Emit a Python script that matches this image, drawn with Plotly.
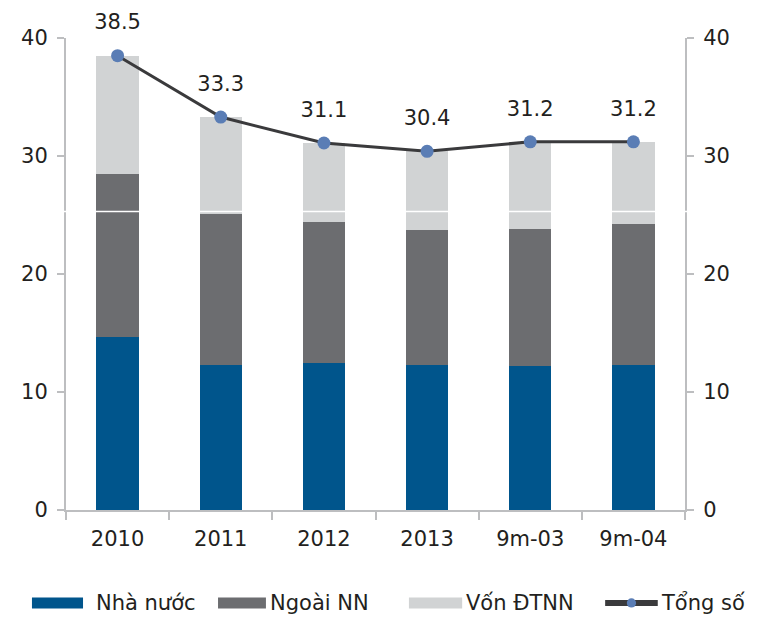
import plotly.graph_objects as go

categories = ["2010", "2011", "2012", "2013", "9m-03", "9m-04"]
nha_nuoc = [14.7, 12.3, 12.5, 12.3, 12.2, 12.3]
ngoai_nn = [13.8, 12.8, 11.9, 11.4, 11.6, 11.9]
von_dtnn = [10.0, 8.2, 6.7, 6.7, 7.4, 7.0]
tong_so = [38.5, 33.3, 31.1, 30.4, 31.2, 31.2]
series_names = ["Nhà nước", "Ngoài NN", "Vốn ĐTNN", "Tổng số"]

BLUE = "#00558C"
GRAY = "#6C6D70"
LIGHT = "#D1D3D4"
LINE = "#3A3A3C"
MARKER = "#5A7DB5"
AXIS = "#BDBEC0"
TEXT = "#231F20"
FONT = "DejaVu Sans"

fig = go.Figure()
for name, vals, col in zip(series_names[:3], [nha_nuoc, ngoai_nn, von_dtnn], [BLUE, GRAY, LIGHT]):
    fig.add_trace(go.Bar(x=categories, y=vals, name=name, marker=dict(color=col, line=dict(width=0)),
                         width=0.41, showlegend=False))

# total line drawn on the right axis (same 0-40 scale)
fig.add_trace(go.Scatter(x=categories, y=tong_so, name=series_names[3], mode="lines+markers",
                         yaxis="y2", line=dict(color=LINE, width=3), marker=dict(color=MARKER, size=13),
                         cliponaxis=False, showlegend=False))

# value labels: a big transparent marker pushes the text further above the point
fig.add_trace(go.Scatter(x=categories, y=tong_so, mode="markers+text", yaxis="y2",
                         marker=dict(size=32, color="rgba(0,0,0,0)"),
                         text=[f"{v:.1f}" for v in tong_so], textposition="top center",
                         textfont=dict(size=21, color=TEXT, family=FONT),
                         cliponaxis=False, showlegend=False, hoverinfo="skip"))

# white seam line crossing the chart
fig.add_shape(type="line", xref="paper", yref="y", x0=-0.03, x1=1.03, y0=25.3, y1=25.3,
              line=dict(color="white", width=1.5), layer="above")

# custom legend along the bottom: (swatch start, swatch end, text start)
legend_items = [
    (-0.055, 0.0275, 0.045, BLUE, "bar"),
    (0.2456, 0.323, 0.327, GRAY, "bar"),
    (0.554, 0.640, 0.643, LIGHT, "bar"),
    (0.871, 0.956, 0.958, LINE, "line"),
]
yl = -0.197
for (x0, x1, xt, col, kind), name in zip(legend_items, series_names):
    if kind == "bar":
        fig.add_shape(type="rect", xref="paper", yref="paper", x0=x0, x1=x1, y0=yl - 0.0117, y1=yl + 0.0117,
                      fillcolor=col, line=dict(width=0))
    else:
        fig.add_shape(type="line", xref="paper", yref="paper", x0=x0, x1=x1, y0=yl, y1=yl,
                      line=dict(color=col, width=6))
        xm = (x0 + x1) / 2
        fig.add_shape(type="circle", xref="paper", yref="paper", x0=xm - 0.0075, x1=xm + 0.0075,
                      y0=yl - 0.0098, y1=yl + 0.0098, fillcolor=MARKER, line=dict(width=0))
    fig.add_annotation(xref="paper", yref="paper", x=xt, y=yl, text=name, showarrow=False,
                       xanchor="left", yanchor="middle", font=dict(size=21, color=TEXT, family=FONT))

axis_common = dict(range=[0, 40], dtick=10, showgrid=False, zeroline=False, showline=True,
                   linecolor=AXIS, linewidth=2, ticks="outside", ticklen=7, tickcolor=AXIS,
                   tickwidth=2, ticklabelstandoff=5, tickfont=dict(size=21, color=TEXT, family=FONT))

fig.update_layout(
    barmode="stack",
    width=757,
    height=610,
    margin=dict(l=58, r=80, t=30, b=108),
    plot_bgcolor="white",
    paper_bgcolor="white",
    font=dict(family=FONT, size=21, color=TEXT),
    showlegend=False,
    xaxis=dict(type="category", showline=True, linecolor=AXIS, linewidth=2, ticks="outside",
               tickson="boundaries", ticklen=8, tickcolor=AXIS, tickwidth=2, showgrid=False,
               ticklabelstandoff=9, tickfont=dict(size=21, color=TEXT, family=FONT)),
    yaxis=axis_common,
    yaxis2=dict(overlaying="y", side="right", **axis_common),
)

fig.write_html("out.html")
